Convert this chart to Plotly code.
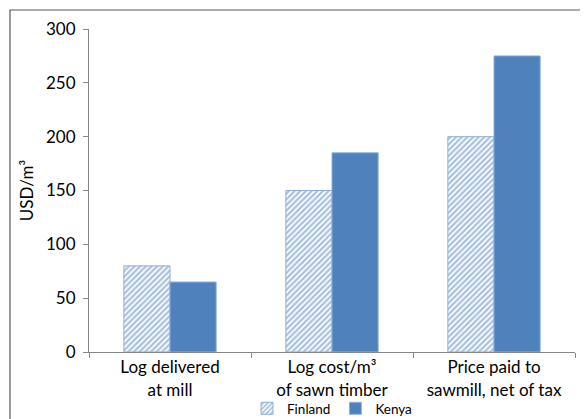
import plotly.graph_objects as go

categories = ["Log delivered<br>at mill", "Log cost/m³<br>of sawn timber", "Price paid to<br>sawmill, net of tax"]
finland = [80, 150, 200]
kenya = [65, 185, 275]
y_ticks = [0, 50, 100, 150, 200, 250, 300]

blue = "#4F81BD"
font = "Lato, 'Open Sans', sans-serif"

fig = go.Figure()
fig.add_trace(go.Bar(
    x=categories, y=finland, name="Finland",
    marker=dict(color="white", line=dict(color="#8EB0DA", width=1),
                pattern=dict(shape="/", fgcolor=blue, bgcolor="white", size=4, solidity=0.55)),
))
fig.add_trace(go.Bar(
    x=categories, y=kenya, name="Kenya",
    marker=dict(color=blue, line=dict(color="#8EB0DA", width=1)),
))

# page body adds an 8px offset, so the figure is 8px smaller and shifted
fig.update_layout(
    width=580, height=411,
    margin=dict(l=81, r=13, t=21, b=67, autoexpand=False),
    paper_bgcolor="white", plot_bgcolor="white",
    barmode="group", bargap=0.43, bargroupgap=0,
    font=dict(family=font, color="#000000", size=16),
    showlegend=True,
    legend=dict(orientation="h", x=0.5, xanchor="center", y=-0.175, yanchor="middle",
                font=dict(size=13.5), itemwidth=30, traceorder="normal",
                tracegroupgap=0, bgcolor="rgba(0,0,0,0)"),
    shapes=[dict(type="rect", xref="paper", yref="paper",
                 x0=-0.1626, x1=1.2, y0=-0.4, y1=1.0588,
                 line=dict(color="#595959", width=1.2), fillcolor="rgba(0,0,0,0)", layer="below")],
)
fig.update_xaxes(
    type="category", showline=True, linecolor="#868686", linewidth=1,
    ticks="outside", tickson="boundaries", ticklen=5, tickcolor="#868686",
    tickfont=dict(size=17), showgrid=False, automargin=False,
)
fig.update_yaxes(
    range=[0, 300], tickvals=y_ticks, showline=True, linecolor="#868686", linewidth=1,
    ticks="outside", ticklen=5, tickcolor="#868686", showgrid=False, zeroline=False,
    tickfont=dict(size=17), automargin=False, ticklabelstandoff=4,
    title=dict(text="USD/m³", font=dict(size=17), standoff=8),
)
fig.write_html("out.html")
